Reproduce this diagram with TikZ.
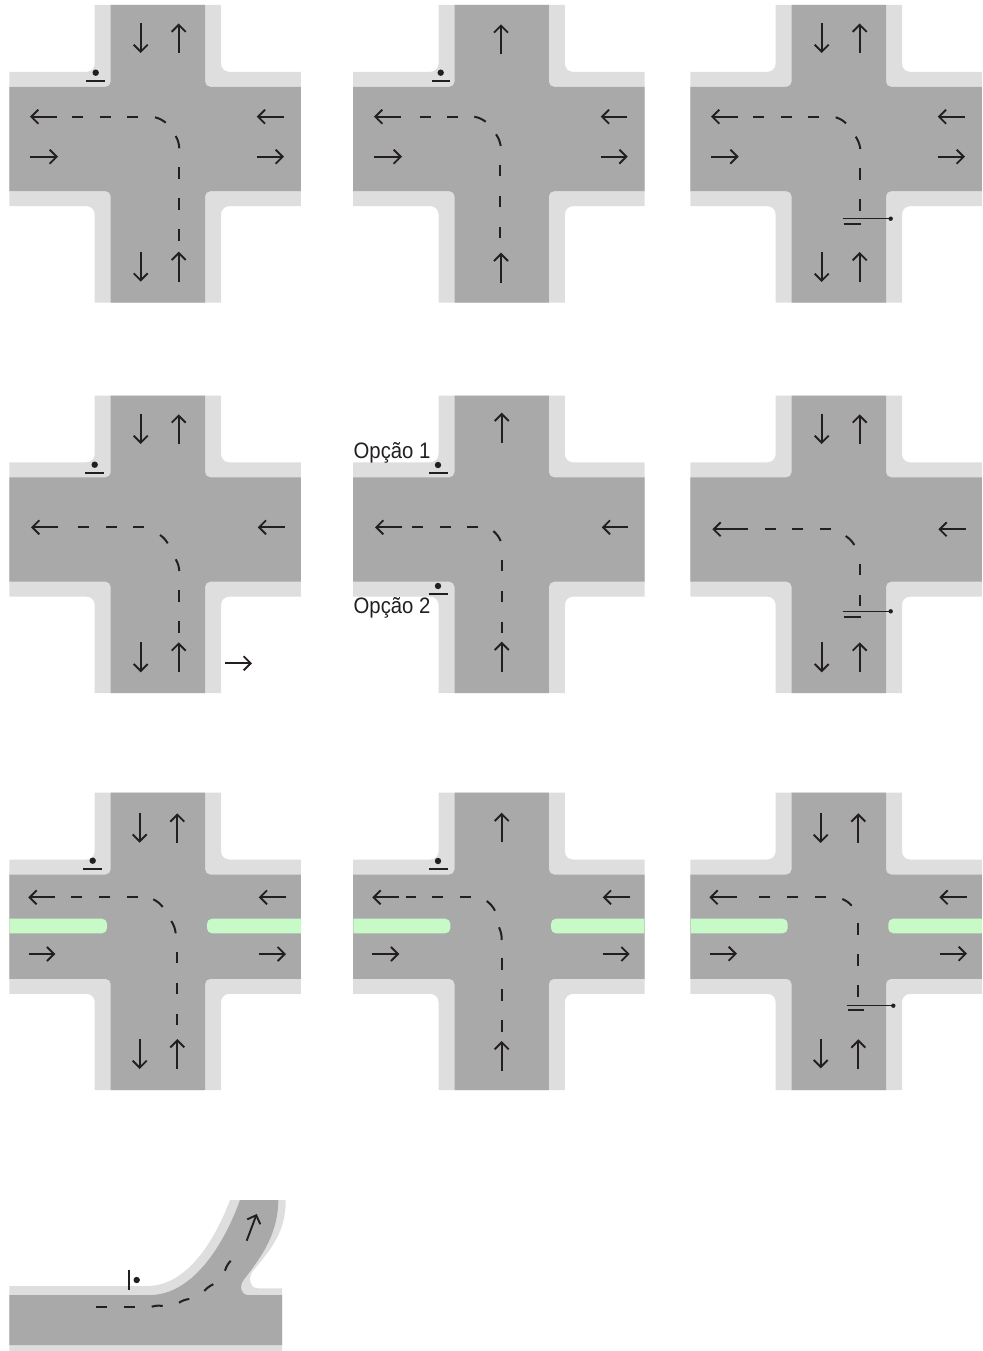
\documentclass[tikz,border=0pt]{standalone}
\usepackage{fontspec}
\setmainfont{Liberation Sans}
\usetikzlibrary{arrows.meta}
\definecolor{kerb}{HTML}{DEDEDE}
\definecolor{asphalt}{HTML}{A9A9A9}
\definecolor{refuge}{HTML}{C8FAC8}
\definecolor{ink}{HTML}{231F20}
\newcommand{\plusoutline}[3]{(-#1,-134) -- (#1,-134) [rounded corners=#3] -- (#1,-#2) [sharp corners] -- (143,-#2) -- (143,#2) [rounded corners=#3] -- (#1,#2) [sharp corners] -- (#1,163.5) -- (-#1,163.5) [rounded corners=#3] -- (-#1,#2) [sharp corners] -- (-148.5,#2) -- (-148.5,-#2) [rounded corners=#3] -- (-#1,-#2) [sharp corners] -- cycle}
\tikzset{
  flow/.style={draw=ink, line width=1.9pt, -{Straight Barb[length=7pt,width=14pt,line width=1.9pt]}},
  lane/.style={draw=ink, line width=2pt},
  vdash/.style={lane, dash pattern=on 11.5pt off 19.5pt},      % vertical lane line
  hdash/.style={lane, dash pattern=on 11pt off 16.7pt},        % horizontal lane line
  stopbar/.style={draw=ink, line width=1.9pt},
  wire/.style={draw=ink, line width=1.1pt},
  optlabel/.style={font=\fontsize{20.3}{24}\selectfont, text=ink, anchor=base west, inner sep=0pt, yscale=1.1, transform shape},
  crossing/.pic={
    \fill[kerb] \plusoutline{63.2}{67.2}{8pt};
    \fill[asphalt] \plusoutline{47.2}{52.2}{5pt};
  },
}
\begin{document}
\begin{tikzpicture}[x=1pt,y=-1pt]
  \useasboundingbox (0,0) rectangle (982,1351);
  \foreach \cx in {157.9,501.7,838.8}
    \foreach \cy in {139,529.5,926.7}
      \pic at (\cx,\cy) {crossing};
  % refuges of the third row
  \foreach \xa/\xb in {9.3/107,353.3/450.3,690.7/787.7}
    \fill[refuge] (\xa,918.7) [rounded corners=5pt] -- (\xb,918.7) -- (\xb,933.3) [sharp corners] -- (\xa,933.3) -- cycle;
  \foreach \xa/\xb in {301/207,644.3/551,982/888.3}
    \fill[refuge] (\xa,918.7) [rounded corners=5pt] -- (\xb,918.7) -- (\xb,933.3) [sharp corners] -- (\xa,933.3) -- cycle;
  % curved road
  \fill[kerb] (9.3,1286) -- (147,1286) .. controls (185,1286) and (213,1245) .. (230,1200)
    -- (285.7,1200) .. controls (285.7,1232) and (272,1248) .. (252.3,1271.7)
    .. controls (248,1278) and (250,1288.3) .. (258,1288.3) -- (282,1288.3) -- (282,1351) -- (9.3,1351) -- cycle;
  \fill[asphalt] (9.3,1295) -- (150,1295) .. controls (190,1295) and (222,1250) .. (240,1200)
    -- (278.3,1200) .. controls (278,1232) and (264,1254) .. (243.5,1280)
    .. controls (239,1287) and (241,1295) .. (248.3,1295) -- (282,1295) -- (282,1345) -- (9.3,1345) -- cycle;
  % arrows, row by row
  \foreach \xa/\ya/\xb/\yb in {
      140.7/23.5/140.7/53, 178.7/53/178.7/23.5, 140.7/251.7/140.7/281.7, 178.7/281.7/178.7/251.7,
      57/116.7/30/116.7, 30/156.7/58/156.7, 284/116.7/256.7/116.7, 256.7/156.7/284/156.7,
      501/54.3/501/24.3, 501/282.7/501/252.7,
      401/116.7/374/116.7, 374/156.7/402/156.7, 627.3/116.7/600.7/116.7, 600.7/156.7/627.7/156.7,
      821.7/23.5/821.7/53, 859.7/53/859.7/23.5, 821.7/252/821.7/282, 859.7/282/859.7/252,
      738.3/116.7/711/116.7, 711.3/156.7/738.7/156.7, 965/116.7/937.7/116.7, 937.7/156.7/965/156.7,
      140.7/414.3/140.7/444, 178.7/444/178.7/414.3, 140.7/642.3/140.7/672.3, 178.7/672.3/178.7/642.3,
      58/527.3/31/527.3, 284.7/527.3/257.7/527.3, 225/663.3/252/663.3,
      501.7/442.7/501.7/412.7, 501.7/671.7/501.7/641.7, 402/527.3/375/527.3, 628.3/527.3/601.7/527.3,
      821.7/414.3/821.7/444, 859.7/444/859.7/414.3, 821.7/642.3/821.7/672.3, 859.7/672.3/859.7/642.3,
      748.3/529.3/712.3/529.3, 965.7/529.3/938.3/529.3,
      139.7/813.3/139.7/842.7, 177.3/842.7/177.3/813.3, 139.7/1039/139.7/1069, 177.3/1069/177.3/1039,
      55.3/897.3/28.3/897.3, 28.7/954/55.3/954, 286/897.3/258.7/897.3, 259/954/286/954,
      501.7/842.3/501.7/812.7, 501.7/1071/501.7/1041,
      399.3/897.3/372.3/897.3, 372.3/954/399.3/954, 630/897.3/602.7/897.3, 602.7/954/629.7/954,
      820.7/813.3/820.7/843, 858.3/843/858.3/813.3, 820.7/1039.3/820.7/1068.3, 858.3/1069/858.3/1039.3,
      736.7/897.3/709.3/897.3, 709.7/953.7/737/953.7, 966.7/897.3/939.3/897.3, 940/953.7/967/953.7,
      246.7/1240.7/256.7/1214}
    \draw[flow] (\xa,\ya) -- (\xb,\yb);
  % lane lines: straight parts
  \foreach \x/\ya/\yb in {178.7/240.7/166.7, 500.3/238.3/164, 859.7/210.7/167.7, 178.7/632.7/589.3,
      501.7/633/559.3, 859.7/606/562.3, 177.3/1025/950.7, 501.7/1031.7/957.7, 858.3/996.7/922.3}
    \draw[vdash] (\x,\ya) -- (\x,\yb);
  \foreach \xa/\xb/\y in {138.3/72.3/116.7, 458.3/419.3/116.7, 819.3/752.7/116.7, 144.3/77.7/527.3,
      478.3/411/527.3, 831/764.3/529.3, 137.7/70.7/897.3, 471/405.7/897.3, 825.7/759.3/897.3, 96/135/1306.7}
    \draw[hdash] (\xa,\y) -- (\xb,\y);
  % lane lines: curved parts
  \foreach \xa/\ya/\xb/\yb in {
      179.3/148.3/175.7/136, 165.7/122.7/155/117.3,
      500.7/146/496/134.3, 485.7/121.7/474.3/116.7,
      860.3/149/855.7/136.7, 846/123.3/835.7/117.3,
      179.3/571/175.7/559.3, 167.7/543.3/160/535,
      500.7/541/493.3/531, 854.3/545/845.7/536,
      175.7/933.3/171.3/921, 162.7/907/153.3/899.3,
      501.7/940/499/927.3, 495/910.7/486.7/901,
      851.7/905.7/842.3/899,
      230.7/1260.7/225/1270.7, 213.3/1284.3/204.3/1291, 189.3/1299/179/1302.7, 162.7/1306/151.7/1306.7}
    \draw[lane] (\xa,\ya) to[bend right=12] (\xb,\yb);
  % signals at the kerb
  \foreach \xa/\xb/\y/\dx/\dy in {
      86.3/105/81/95.7/72.7, 431.7/450.3/81/440.7/72.7, 85.3/104/472.7/94.7/464.7,
      429.3/448/472.7/438/465, 429.3/448/594/438/586, 83.3/102/869.3/92.7/860.7, 429.3/448/869.3/438/861} {
    \draw[stopbar] (\xa,\y) -- (\xb,\y);
    \fill[ink] (\dx,\dy) circle (3.2pt);
  }
  % signals on a mast across the lane
  \foreach \xa/\xb/\y/\xc/\xd/\yc in {
      842.7/890.7/218.7/843.7/861/224, 842.7/890.7/611.3/843.7/861/617, 846.7/893.3/1005.7/848.3/864.3/1010} {
    \draw[wire] (\xa,\y) -- (\xb,\y);
    \fill[ink] (\xb,\y) circle (2.2pt);
    \draw[stopbar] (\xc,\yc) -- (\xd,\yc);
  }
  \draw[stopbar] (129.3,1270) -- (129.3,1290);
  \fill[ink] (136.7,1280) circle (3.2pt);
  \node[optlabel] (opt1) at (353.5,458.3) {Opção 1};
  \node[optlabel] (opt2) at (353.5,613.3) {Opção 2};
\end{tikzpicture}
\end{document}
